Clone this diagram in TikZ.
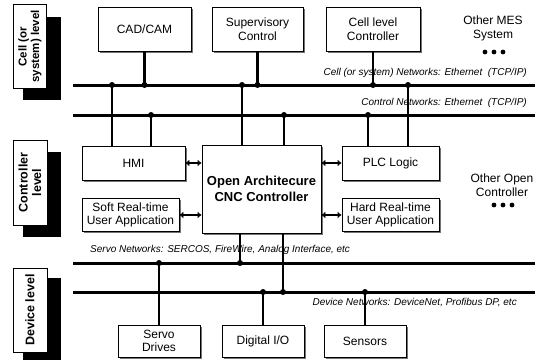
\documentclass[tikz,border=0pt]{standalone}
\usepackage{fontspec}
\setmainfont{Liberation Sans}
\usetikzlibrary{arrows.meta,shadows}
\begin{document}
\begin{tikzpicture}[x=1pt,y=-1pt,
  box/.style={draw, line width=0.8pt, fill=white, align=center, inner sep=0pt,
    font=\fontsize{12}{13.5}\selectfont,
    drop shadow={shadow xshift=1.5pt, shadow yshift=-1.5pt, fill=black!55, opacity=1}},
  level/.style={draw, line width=0.6pt, fill=white, align=center, inner sep=0pt,
    font=\bfseries\fontsize{11.5}{12.5}\selectfont},
  plain/.style={align=center, inner sep=0pt, font=\fontsize{12}{14}\selectfont},
  bus/.style={line width=3pt},
  link/.style={line width=2.6pt},
  netlabel/.style={font=\itshape\fontsize{10}{11}\selectfont, inner sep=0pt},
  biarrow/.style={line width=2.4pt, {Latex[length=4pt,width=7pt]}-{Latex[length=4pt,width=7pt]}},
]
\useasboundingbox (0,0) rectangle (546,359);
\fill[white] (0,0) rectangle (546,359);

% level boxes
\fill (23,17) rectangle (61,100);
\node[level, rotate=90, minimum width=84pt, minimum height=33pt] (lvcell) at (30,46.5) {Cell (or\\system) level};
\fill (23,152) rectangle (61,237);
\node[level, rotate=90, minimum width=85pt, minimum height=34pt, font=\bfseries\fontsize{12.5}{13.5}\selectfont] (lvctrl) at (30,182.5) {Controller\\level};
\fill (23,278) rectangle (61,362);
\node[level, rotate=90, minimum width=84pt, minimum height=34pt, font=\bfseries\fontsize{12.5}{13.5}\selectfont] (lvdev) at (30,310) {Device level};

% buses
\coordinate (cellL) at (73,85);  \coordinate (cellR) at (535,85);
\coordinate (ctrlL) at (73,115); \coordinate (ctrlR) at (535,115);
\coordinate (servL) at (73,263); \coordinate (servR) at (535,263);
\coordinate (devL)  at (73,292); \coordinate (devR)  at (535,292);
\draw[bus] (cellL) -- (cellR);
\draw[bus] (ctrlL) -- (ctrlR);
\draw[bus] (servL) -- (servR);
\draw[bus] (devL) -- (devR);

% boxes
\node[box, minimum width=93pt, minimum height=44pt] (cad) at (144.5,29) {CAD/CAM};
\node[box, minimum width=91pt, minimum height=44pt] (sup) at (257.5,29) {Supervisory\\Control};
\node[box, minimum width=94pt, minimum height=44pt] (cellc) at (373,29) {Cell level\\Controller};
\node[box, minimum width=103pt, minimum height=34pt] (hmi) at (133.5,163) {HMI};
\node[box, minimum width=97pt, minimum height=33pt] (soft) at (130.5,215) {Soft Real-time\\User Application};
\node[box, minimum width=119pt, minimum height=88pt, font=\bfseries\fontsize{13}{15.5}\selectfont] (oac) at (261.5,189) {Open Architecure\\CNC Controller};
\node[box, minimum width=97pt, minimum height=34pt] (plc) at (390.5,163) {PLC Logic};
\node[box, minimum width=97pt, minimum height=33pt] (hard) at (390.5,215) {Hard Real-time\\User Application};
\node[box, minimum width=82pt, minimum height=32pt] (servo) at (159,341) {Servo\\Drives};
\node[box, minimum width=82pt, minimum height=32pt] (dio) at (263,341) {Digital I/O};
\node[box, minimum width=82pt, minimum height=32pt] (sens) at (365,341) {Sensors};

% junction coordinates
\coordinate (jh1) at (112,85);
\coordinate (jh2) at (151,115);
\coordinate (jo1) at (242,85);
\coordinate (jo2) at (284,115);
\coordinate (jp1) at (368,115);
\coordinate (jp2) at (408,85);
\coordinate (js1) at (240,263);
\coordinate (js2) at (283,292);
\coordinate (jsv) at (159,263);

% vertical links
\draw[link] (cad.south) -- (cad.south |- cellL) coordinate (jcad);
\draw[link] (sup.south) -- (sup.south |- cellL) coordinate (jsup);
\draw[link] (cellc.south) -- (cellc.south |- cellL) coordinate (jcc);
\draw[link] (jh1) -- (jh1 |- hmi.north);
\draw[link] (jh2) -- (jh2 |- hmi.north);
\draw[link] (jo1) -- (jo1 |- oac.north);
\draw[link] (jo2) -- (jo2 |- oac.north);
\draw[link] (jp1) -- (jp1 |- plc.north);
\draw[link] (jp2) -- (jp2 |- plc.north);
\draw[link] (js1 |- oac.south) -- (js1);
\draw[link] (js2 |- oac.south) -- (js2);
\draw[link] (jsv) -- (servo.north);
\draw[link] (dio.north) -- (dio.north |- devL) coordinate (jdio);
\draw[link] (sens.north) -- (sens.north |- devL) coordinate (jsens);

% junction dots
\foreach \j in {jcad,jsup,jcc,jh1,jh2,jo1,jo2,jp1,jp2,js1,js2,jsv,jdio,jsens}
  \fill (\j) circle[radius=3pt];

% double arrows
\draw[biarrow] (hmi.east) -- (hmi.east -| oac.west);
\draw[biarrow] (soft.east) -- (soft.east -| oac.west);
\draw[biarrow] (plc.west) -- (plc.west -| oac.east);
\draw[biarrow] (hard.west) -- (hard.west -| oac.east);

% network labels
\node[netlabel, anchor=east] (lcell) at (527,73) {Cell (or system) Networks: Ethernet\ \ (TCP/IP)};
\node[netlabel, anchor=east] (lctrl) at (527,103) {Control Networks: Ethernet\ \ (TCP/IP)};
\node[netlabel, anchor=west] (lserv) at (90,250) {Servo Networks: SERCOS, FireWire, Analog Interface, etc};
\node[netlabel, anchor=east] (ldev) at (517,303) {Device Networks: DeviceNet, Profibus DP, etc};

% others
\node[plain] (mes) at (493,28) {Other MES\\System};
\foreach \dx in {-9,0,9} \fill (494+\dx,52) circle[radius=2.4pt];
\node[plain] (ooc) at (502,185) {Other Open\\Controller};
\foreach \dx in {-9,0,9} \fill (503+\dx,205) circle[radius=2.4pt];
\end{tikzpicture}
\end{document}
